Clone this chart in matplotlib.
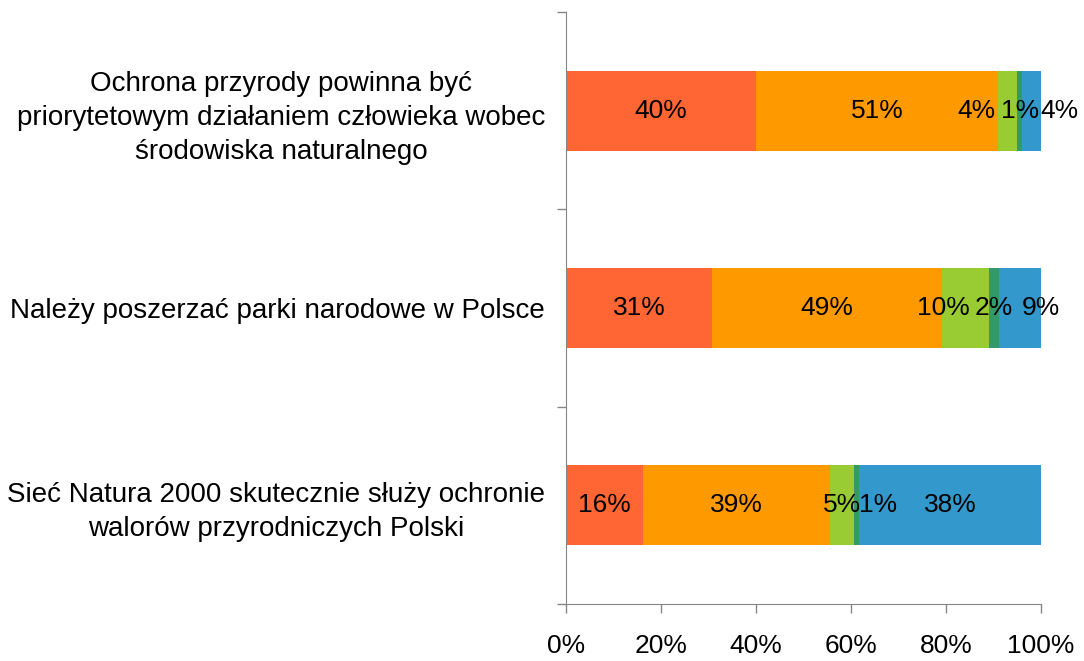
import numpy as np
import matplotlib
matplotlib.use("Agg")
import matplotlib.pyplot as plt

plt.rcParams['font.family'] = ['Liberation Sans', 'DejaVu Sans']

categories = [
    "Ochrona przyrody powinna być\npriorytetowym działaniem człowieka wobec\nśrodowiska naturalnego",
    "Należy poszerzać parki narodowe w Polsce",
    "Sieć Natura 2000 skutecznie służy ochronie\nwalorów przyrodniczych Polski",
]
# percent values per answer segment (as labelled)
seg1 = [40, 31, 16]
seg2 = [51, 49, 39]
seg3 = [4, 10, 5]
seg4 = [1, 2, 1]
seg5 = [4, 9, 38]
colors = ["#FF6633", "#FF9900", "#99CC33", "#339966", "#3399CC"]
x_ticks = [0, 0.2, 0.4, 0.6, 0.8, 1.0]
x_tick_labels = ["0%", "20%", "40%", "60%", "80%", "100%"]

# label nudges (pixels) where Excel moved overlapping labels
nudges = np.array([[0, 0, -31, 0, 28],
                   [0, 0, -22, 0, 21],
                   [0, 0, 0, 22, 0]])

vals = np.array([seg1, seg2, seg3, seg4, seg5], dtype=float).T
frac = vals / vals.sum(axis=1, keepdims=True)

fig = plt.figure(figsize=(10.84, 6.61), dpi=100)
ax = fig.add_axes([0.5222, 0.0862, 0.4382, 0.8956])

y = np.arange(len(categories))
left = np.zeros(len(categories))
for j in range(frac.shape[1]):
    ax.barh(y, frac[:, j], left=left, height=0.405, color=colors[j], edgecolor='none')
    for i in range(len(categories)):
        cx = left[i] + frac[i, j] / 2
        ax.annotate(f"{int(vals[i, j])}%", (cx, y[i]), xytext=(nudges[i, j] * 0.72, 0),
                    textcoords='offset points', ha='center', va='center', fontsize=19, color='black')
    left += frac[:, j]

ax.set_xlim(0, 1)
ax.set_ylim(2.5, -0.5)
ax.set_xticks(x_ticks)
ax.set_xticklabels(x_tick_labels, fontsize=19)
ax.set_yticks(y)
ax.set_yticklabels(categories, fontsize=20, multialignment='center', linespacing=1.4)
ax.tick_params(axis='y', which='major', length=0, pad=15)
ax.set_yticks([-0.5, 0.5, 1.5, 2.5], minor=True)
ax.tick_params(axis='y', which='minor', length=6.5, color='#868686', width=1)
ax.tick_params(axis='x', length=6.5, color='#868686', width=1, pad=15)

for s in ['top', 'right']:
    ax.spines[s].set_visible(False)
for s in ['left', 'bottom']:
    ax.spines[s].set_color('#868686')

fig.savefig("out.png", dpi=100)
